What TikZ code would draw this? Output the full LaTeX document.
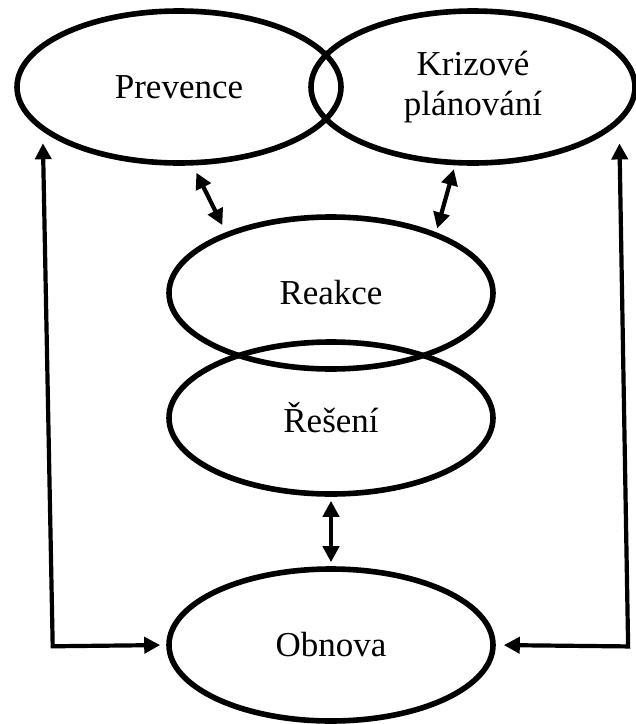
\documentclass[tikz,border=0pt]{standalone}
\usepackage{fontspec}
\setmainfont{Liberation Serif}
\usepackage{tikz}
\usetikzlibrary{shapes.geometric, arrows.meta}

\tikzset{
    phase/.style={draw, ellipse, line width=2.8pt, inner sep=0pt,
        minimum width=162pt, minimum height=76pt, align=center,
        font=\fontsize{17.5}{20}\selectfont},
    link/.style={line width=2.1pt, {Triangle[length=8pt,width=8pt]}-{Triangle[length=8pt,width=8pt]}}
}

\begin{document}
\begin{tikzpicture}[x=0.5pt, y=-0.5pt]
    \useasboundingbox (0,0) rectangle (636,724);
    \node[phase] (prev) at (179,87) {Prevence};
    \node[phase] (kriz) at (473,87) {Krizové\\plánování};
    \node[phase] (reak) at (331,293) {Reakce};
    \node[phase] (rese) at (331,418) {Řešení};
    \node[phase] (obn) at (331,645) {Obnova};
    \draw[link, shorten <=4pt, shorten >=4pt] (prev.-80) -- (reak.150);
    \draw[link, shorten <=2pt, shorten >=2pt] (kriz.-103) -- (reak.30);
    \draw[link, shorten <=2pt, shorten >=2pt] (rese.south) -- (obn.north);
    \draw[link, shorten <=6pt, shorten >=3pt] (prev.-162) -- ++(10,515) -- (obn.west);
    \draw[link, shorten <=10pt, shorten >=4pt] (kriz.-14) -- ++(9,523) -- (obn.east);
\end{tikzpicture}
\end{document}
